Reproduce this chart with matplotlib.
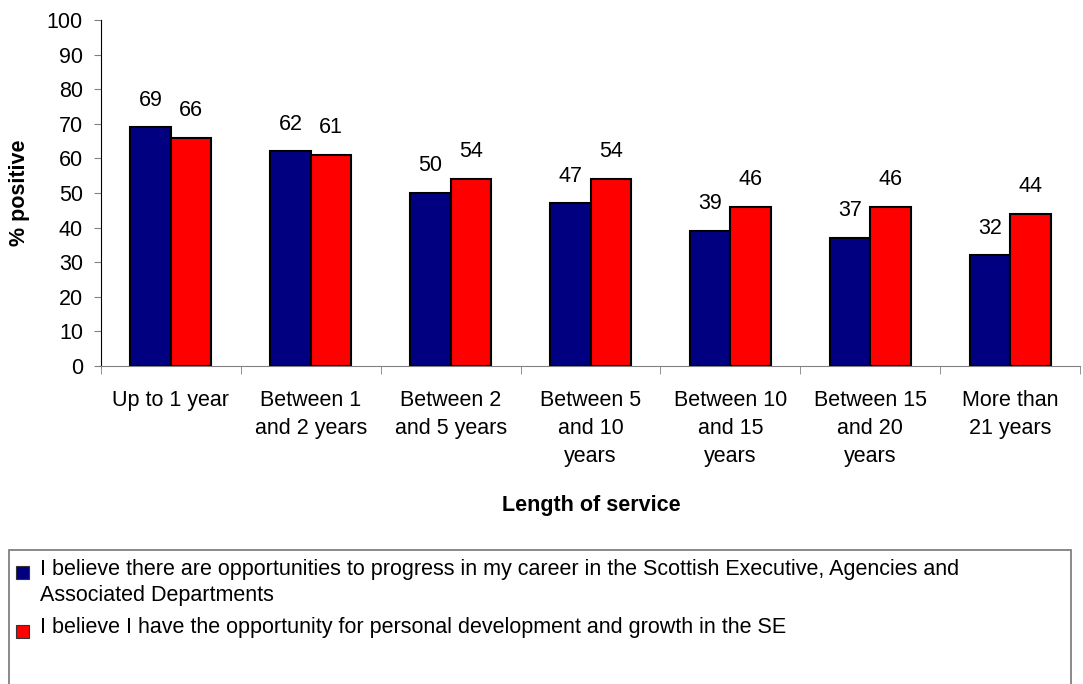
import matplotlib.pyplot as plt
import matplotlib.patches as mpatches
import numpy as np

plt.rcParams['font.family'] = ['Liberation Sans', 'DejaVu Sans']

categories = ["Up to 1 year", "Between 1\nand 2 years", "Between 2\nand 5 years",
              "Between 5\nand 10\nyears", "Between 10\nand 15\nyears",
              "Between 15\nand 20\nyears", "More than\n21 years"]
progress = [69, 62, 50, 47, 39, 37, 32]
development = [66, 61, 54, 54, 46, 46, 44]
series_names = ["I believe there are opportunities to progress in my career in the Scottish Executive, Agencies and\nAssociated Departments",
                "I believe I have the opportunity for personal development and growth in the SE"]
colors = ["#000080", "#FF0000"]
fs = 15.5

W, H = 1083, 684
fig = plt.figure(figsize=(W / 100, H / 100), dpi=100)
ax = fig.add_axes([101 / W, 1 - 366 / H, 979 / W, 346 / H])

x = np.arange(len(categories))
w = 0.29
b1 = ax.bar(x - w / 2, progress, w, color=colors[0], edgecolor="black", linewidth=1.5)
b2 = ax.bar(x + w / 2, development, w, color=colors[1], edgecolor="black", linewidth=1.5)
for bars, vals in ((b1, progress), (b2, development)):
    for r, v in zip(bars, vals):
        ax.annotate(str(v), (r.get_x() + r.get_width() / 2, v), xytext=(0, 12),
                    textcoords="offset points", ha="center", va="bottom", fontsize=fs)

ax.set_xlim(-0.5, len(categories) - 0.5)
ax.set_ylim(0, 100)
ax.set_yticks(range(0, 101, 10))
ax.set_xticks(x)
ax.set_xticklabels(categories, fontsize=fs, linespacing=1.44, va="top")
ax.set_xticks(np.arange(-0.5, len(categories)), minor=True)
ax.tick_params(axis="x", which="major", length=0, pad=17)
ax.tick_params(axis="x", which="minor", length=6, color="#808080", direction="out")
ax.tick_params(axis="y", labelsize=fs, length=5, color="#808080", pad=8)
for s in ("top", "right"):
    ax.spines[s].set_visible(False)
ax.spines["bottom"].set_color("#808080")
ax.spines["left"].set_color("black")

fig.text(20 / W, 1 - 193 / H, "% positive", rotation=90, ha="center", va="center",
         fontsize=fs, fontweight="bold")
fig.text(591 / W, 1 - 505 / H, "Length of service", ha="center", va="center",
         fontsize=fs, fontweight="bold")

# legend box drawn by hand so the key sits next to the first text line
fig.patches.append(mpatches.Rectangle((9 / W, -0.01), 1062 / W, 1 - 550 / H + 0.01,
                                      transform=fig.transFigure, fill=False,
                                      edgecolor="#808080", linewidth=1.3))
rows = [572.5, 631.5]
for name, c, y in zip(series_names, colors, rows):
    fig.patches.append(mpatches.Rectangle((16 / W, 1 - (y + 6.5) / H), 13 / W, 13 / H,
                                          transform=fig.transFigure, facecolor=c,
                                          edgecolor="#333333", linewidth=0.8))
    fig.text(40 / W, 1 - (y - 14) / H, name, ha="left", va="top", fontsize=fs, linespacing=1.35)

fig.savefig("out.png", dpi=100)
